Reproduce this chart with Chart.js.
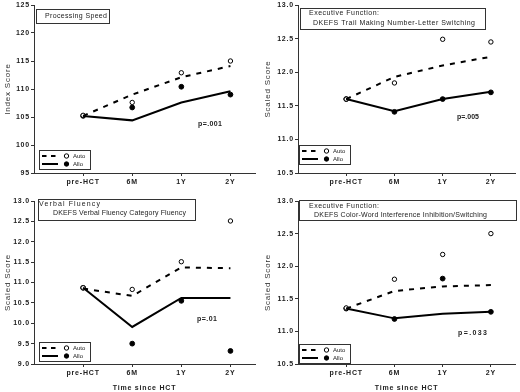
<!DOCTYPE html>
<html>
<head>
<meta charset="utf-8">
<script src="https://cdn.jsdelivr.net/npm/chart.js@4/dist/chart.umd.min.js"></script>
<style>
  body { margin: 0; background: #fff; }
  #wrap { position: relative; width: 520px; height: 392px; overflow: hidden; }
  canvas { position: absolute; }
</style>
</head>
<body>
<div id="wrap">
  <canvas id="c1" width="260" height="196" style="left:0;top:0"></canvas>
  <canvas id="c2" width="260" height="196" style="left:260px;top:0"></canvas>
  <canvas id="c3" width="260" height="196" style="left:0;top:196px"></canvas>
  <canvas id="c4" width="260" height="196" style="left:260px;top:196px"></canvas>
</div>
<script>
const timepoints = ['pre-HCT', '6M', '1Y', '2Y'];
const groups = ['Auto', 'Allo'];

// Processing Speed (Index Score)
const speedAutoLine = [105.2, 109.0, 112.1, 114.1];
const speedAlloLine = [105.2, 104.4, 107.6, 109.6];
const speedAutoMean = [105.3, 107.6, 112.9, 115.0];
const speedAlloMean = [105.2, 106.7, 110.4, 109.0];

// Trail Making Number-Letter Switching (Scaled Score)
const trailAutoLine = [11.6, 11.93, 12.1, 12.23];
const trailAlloLine = [11.6, 11.42, 11.6, 11.71];
const trailAutoMean = [11.6, 11.84, 12.49, 12.45];
const trailAlloMean = [11.6, 11.41, 11.6, 11.7];

// Verbal Fluency Category Fluency (Scaled Score)
const verbalAutoLine = [10.85, 10.67, 11.37, 11.35];
const verbalAlloLine = [10.87, 9.91, 10.62, 10.62];
const verbalAutoMean = [10.87, 10.83, 11.51, 12.51];
const verbalAlloMean = [10.87, 9.5, 10.55, 9.32];

// Color-Word Interference Inhibition/Switching (Scaled Score)
const colorAutoLine = [11.35, 11.62, 11.69, 11.71];
const colorAlloLine = [11.35, 11.2, 11.27, 11.3];
const colorAutoMean = [11.36, 11.8, 12.18, 12.5];
const colorAlloMean = [11.35, 11.19, 11.81, 11.3];

const toXY = arr => arr.map((v, i) => ({ x: i, y: v }));

// stretch text to the width it has in the original figure
function fitText(ctx, text, x, y, w, font) {
    ctx.font = font;
    ctx.letterSpacing = '0px';
    const m = ctx.measureText(text).width;
    ctx.letterSpacing = Math.max(0, (w - m) / Math.max(1, text.length - 1)) + 'px';
    ctx.textAlign = 'left';
    ctx.textBaseline = 'middle';
    ctx.fillText(text, x, y);
}

const spacing = {
    id: 'spacing',
    beforeLayout(chart) { chart.ctx.letterSpacing = '0.8px'; },
    beforeDraw(chart) { chart.ctx.letterSpacing = '0.8px'; }
};

// title box, p value and legend
const overlay = {
    id: 'overlay',
    afterDraw(chart, args, o) {
        const ctx = chart.ctx;
        ctx.save();
        const b = o.box;
        ctx.fillStyle = '#fff';
        ctx.fillRect(b.x, b.y, b.w, b.h);
        ctx.strokeStyle = '#333';
        ctx.lineWidth = 1;
        ctx.strokeRect(b.x + 0.5, b.y + 0.5, b.w, b.h);
        ctx.fillStyle = '#222';
        o.lines.forEach(l => fitText(ctx, l.text, l.x, l.y, l.w, '7px Arial'));
        fitText(ctx, o.p.text, o.p.x, o.p.y, o.p.w, 'bold 7px Arial');

        const g = o.legend;
        ctx.fillStyle = '#fff';
        ctx.fillRect(g.x, g.y, 51, 19);
        ctx.strokeRect(g.x + 0.5, g.y + 0.5, 51, 19);
        [6, 14].forEach((dy, i) => {
            const y = g.y + dy;
            ctx.strokeStyle = '#000';
            ctx.lineWidth = 2;
            ctx.setLineDash(i === 0 ? [4.5, 4.5] : []);
            ctx.beginPath();
            ctx.moveTo(g.x + 3, y);
            ctx.lineTo(g.x + 19, y);
            ctx.stroke();
            ctx.setLineDash([]);
            ctx.lineWidth = 1;
            ctx.beginPath();
            ctx.arc(g.x + 27.5, y, 2.2, 0, Math.PI * 2);
            ctx.fillStyle = i === 0 ? '#fff' : '#000';
            ctx.fill();
            ctx.stroke();
            ctx.fillStyle = '#222';
            fitText(ctx, groups[i], g.x + 34, y, 9, '6px Arial');
        });
        ctx.restore();
    }
};

function makePanel(id, p) {
    const tickFont = { family: 'Arial', size: 7, weight: 'bold' };
    return new Chart(document.getElementById(id), {
        type: 'line',
        data: {
            datasets: [
                { label: groups[0], data: toXY(p.autoLine), borderColor: '#000', borderWidth: 2, borderDash: [5, 6], pointRadius: 0, tension: 0 },
                { label: groups[1], data: toXY(p.alloLine), borderColor: '#000', borderWidth: 2, pointRadius: 0, tension: 0 },
                { label: groups[0], data: toXY(p.autoMean), showLine: false, pointRadius: 2.2, pointBorderWidth: 1, pointBorderColor: '#000', pointBackgroundColor: '#fff' },
                { label: groups[1], data: toXY(p.alloMean), showLine: false, pointRadius: 2.4, pointBorderWidth: 1, pointBorderColor: '#000', pointBackgroundColor: '#000' }
            ]
        },
        options: {
            responsive: false,
            animation: false,
            layout: { padding: { left: 0, right: 4, top: p.top, bottom: 0 } },
            plugins: {
                legend: { display: false },
                tooltip: { enabled: false },
                overlay: { box: p.box, lines: p.lines, p: p.pval, legend: p.legend }
            },
            scales: {
                x: {
                    type: 'linear', min: -1, max: 3.5,
                    afterBuildTicks: s => { s.ticks = timepoints.map((t, i) => ({ value: i })); },
                    afterFit: s => { s.height = 196 - p.bottom; s.paddingLeft = 0; s.paddingRight = 0; },
                    ticks: { callback: v => timepoints[v], color: '#222', font: tickFont, padding: 2, maxRotation: 0, autoSkip: false },
                    grid: { drawOnChartArea: false, tickLength: 3, color: '#333', tickWidth: 1 },
                    border: { color: '#333', width: 1 },
                    title: { display: p.xTitle, text: 'Time since HCT', color: '#222', font: tickFont, padding: 0 }
                },
                y: {
                    min: p.min, max: p.max,
                    afterFit: s => { s.width = p.yWidth; s.paddingTop = 0; s.paddingBottom = 0; },
                    ticks: { stepSize: p.step, callback: v => v.toFixed(p.dec), color: '#222', font: tickFont, padding: 1 },
                    grid: { drawOnChartArea: false, tickLength: 3, color: '#333' },
                    border: { color: '#333', width: 1 },
                    title: { display: true, text: p.yTitle, color: '#333', font: { family: 'Arial', size: 8 }, padding: { top: 3, bottom: 0 } }
                }
            }
        },
        plugins: [spacing, overlay]
    });
}

makePanel('c1', { autoLine: speedAutoLine, alloLine: speedAlloLine, autoMean: speedAutoMean, alloMean: speedAlloMean,
    min: 95, max: 125, step: 5, dec: 0, yTitle: 'Index Score', yWidth: 34, top: 5, bottom: 173, xTitle: false,
    box: { x: 36, y: 9, w: 73, h: 14 },
    lines: [{ text: 'Processing Speed', x: 45, y: 16, w: 62 }],
    pval: { text: 'p=.001', x: 198, y: 124.5, w: 24 },
    legend: { x: 39, y: 150 } });
makePanel('c2', { autoLine: trailAutoLine, alloLine: trailAlloLine, autoMean: trailAutoMean, alloMean: trailAlloMean,
    min: 10.5, max: 13, step: 0.5, dec: 1, yTitle: 'Scaled Score', yWidth: 38, top: 4, bottom: 173, xTitle: false,
    box: { x: 40, y: 8, w: 185, h: 21 },
    lines: [{ text: 'Executive Function:', x: 49, y: 13.5, w: 70 }, { text: 'DKEFS Trail Making Number-Letter Switching', x: 53, y: 23, w: 162 }],
    pval: { text: 'p=.005', x: 197, y: 117.5, w: 22 },
    legend: { x: 39, y: 145 } });
makePanel('c3', { autoLine: verbalAutoLine, alloLine: verbalAlloLine, autoMean: verbalAutoMean, alloMean: verbalAlloMean,
    min: 9, max: 13, step: 0.5, dec: 1, yTitle: 'Scaled Score', yWidth: 34, top: 0.5, bottom: 168, xTitle: true,
    box: { x: 38, y: 3, w: 157, h: 21 },
    lines: [{ text: 'Verbal Fluency', x: 39, y: 8, w: 61 }, { text: 'DKEFS Verbal Fluency Category Fluency', x: 53, y: 17, w: 133 }],
    pval: { text: 'p=.01', x: 197, y: 123, w: 20 },
    legend: { x: 39, y: 146 } });
makePanel('c4', { autoLine: colorAutoLine, alloLine: colorAlloLine, autoMean: colorAutoMean, alloMean: colorAlloMean,
    min: 10.5, max: 13, step: 0.5, dec: 1, yTitle: 'Scaled Score', yWidth: 38, top: 0.5, bottom: 168, xTitle: true,
    box: { x: 39, y: 4, w: 217, h: 20 },
    lines: [{ text: 'Executive Function:', x: 49, y: 10, w: 70 }, { text: 'DKEFS Color-Word Interference Inhibition/Switching', x: 54, y: 19, w: 173 }],
    pval: { text: 'p=.033', x: 198, y: 137.5, w: 29 },
    legend: { x: 39, y: 148 } });
</script>
</body>
</html>
